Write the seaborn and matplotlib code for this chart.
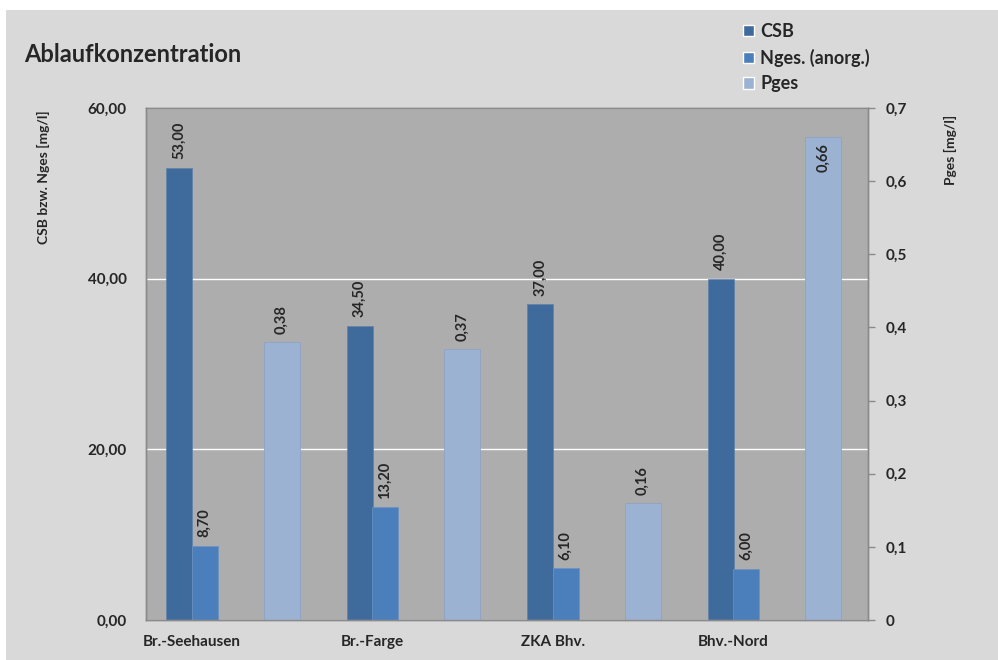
import numpy as np
import matplotlib
matplotlib.use("Agg")
import matplotlib.pyplot as plt
from matplotlib.patches import Rectangle, Patch
import seaborn as sns

# data
sites = ["Br.-Seehausen", "Br.-Farge", "ZKA Bhv.", "Bhv.-Nord"]
csb = [53.0, 34.5, 37.0, 40.0]
nges = [8.7, 13.2, 6.1, 6.0]
pges = [0.38, 0.37, 0.16, 0.66]
left_ticks = [0, 20, 40, 60]
right_ticks = [0, 0.1, 0.2, 0.3, 0.4, 0.5, 0.6, 0.7]

c_csb = "#3f6b9c"
c_nges = "#4a7fbc"
c_pges = "#9cb2d3"
bg = "#d9d9d9"
plot_bg = "#adadad"
spine_c = "#8a8a8a"

sns.set_theme(style="white")
plt.rcParams["font.family"] = ["Lato", "DejaVu Sans"]
plt.rcParams["font.weight"] = "bold"

def de(v, nd):
    return f"{v:.{nd}f}".replace(".", ",")

fig = plt.figure(figsize=(9.98, 6.6), dpi=100, facecolor="white")
fig.add_artist(Rectangle((6 / 998, 0), 1, 650 / 660, transform=fig.transFigure,
                         facecolor=bg, edgecolor="none", zorder=-10))

ax = fig.add_axes([146 / 998, 40 / 660, 722 / 998, 512 / 660])
ax.set_facecolor(plot_bg)
ax2 = ax.twinx()
ax2.patch.set_visible(False)

idx = np.arange(len(sites))
pos_csb = idx - 0.317
pos_nges = idx - 0.175
pos_pges = idx + 0.252

sns.barplot(x=pos_csb, y=csb, native_scale=True, width=0.144, color=c_csb,
            saturation=1, errorbar=None, orient="x", ax=ax,
            edgecolor="#5f82ab", linewidth=0.5)
sns.barplot(x=pos_nges, y=nges, native_scale=True, width=0.144, color=c_nges,
            saturation=1, errorbar=None, orient="x", ax=ax,
            edgecolor="#6a92c4", linewidth=0.5)
sns.barplot(x=pos_pges, y=pges, native_scale=True, width=0.2, color=c_pges,
            saturation=1, errorbar=None, orient="x", ax=ax2,
            edgecolor="#8ea4c4", linewidth=0.6)

ax.set_xlim(-0.5, len(sites) - 0.5)
ax2.set_xlim(-0.5, len(sites) - 0.5)
ax.set_ylim(0, 60)
ax2.set_ylim(0, 0.7)

# value labels
def label(a, xs, vals, ymax, nd):
    for x, v in zip(xs, vals):
        if v / ymax > 0.9:
            a.annotate(de(v, nd), (x, v), xytext=(0, -4), textcoords="offset points",
                       rotation=90, ha="center", va="top", fontsize=10.5, fontweight="bold")
        else:
            a.annotate(de(v, nd), (x, v), xytext=(0, 6), textcoords="offset points",
                       rotation=90, ha="center", va="bottom", fontsize=10.5, fontweight="bold")

label(ax, pos_csb, csb, 60, 2)
label(ax, pos_nges, nges, 60, 2)
label(ax2, pos_pges, pges, 0.7, 2)

ax.set_yticks(left_ticks, [de(t, 2) for t in left_ticks])
ax2.set_yticks(right_ticks, ["0"] + [de(t, 1) for t in right_ticks[1:]])
ax.set_xticks(idx - 0.246, sites)

ax.tick_params(axis="x", length=0, pad=11, labelsize=11)
ax.tick_params(axis="y", length=0, pad=14, labelsize=11)
ax2.tick_params(axis="y", direction="out", length=5, width=1, color=spine_c,
                pad=8, labelsize=11)
for t in ax.get_xticklabels() + ax.get_yticklabels() + ax2.get_yticklabels():
    t.set_fontweight("bold")

ax.yaxis.grid(True, color="white", linewidth=1)
ax.set_axisbelow(True)
ax.set_xlabel("")
ax.set_ylabel("")
ax2.set_ylabel("")

for a in (ax, ax2):
    for s in a.spines.values():
        s.set_color(spine_c)
        s.set_linewidth(1)

fig.text(24 / 998, 1 - 62 / 660, "Ablaufkonzentration", fontsize=17,
         fontweight="bold", ha="left", va="baseline")
fig.text(43 / 998, 1 - 177 / 660, "CSB bzw. Nges [mg/l]", rotation=90,
         fontsize=10, fontweight="bold", ha="center", va="center")
fig.text(950 / 998, 1 - 150 / 660, "Pges [mg/l]", rotation=90,
         fontsize=10, fontweight="bold", ha="center", va="center")

handles = [Patch(facecolor=c_csb), Patch(facecolor=c_nges), Patch(facecolor=c_pges)]
fig.legend(handles, ["CSB", "Nges. (anorg.)", "Pges"], loc="upper left",
           bbox_to_anchor=(743 / 998, 1 - 23 / 660), frameon=False,
           prop={"size": 13, "weight": "bold"}, handlelength=0.62,
           handleheight=0.62, handletextpad=0.33, labelspacing=0.48,
           borderpad=0, borderaxespad=0)

fig.savefig("out.png", dpi=100, facecolor="white")
